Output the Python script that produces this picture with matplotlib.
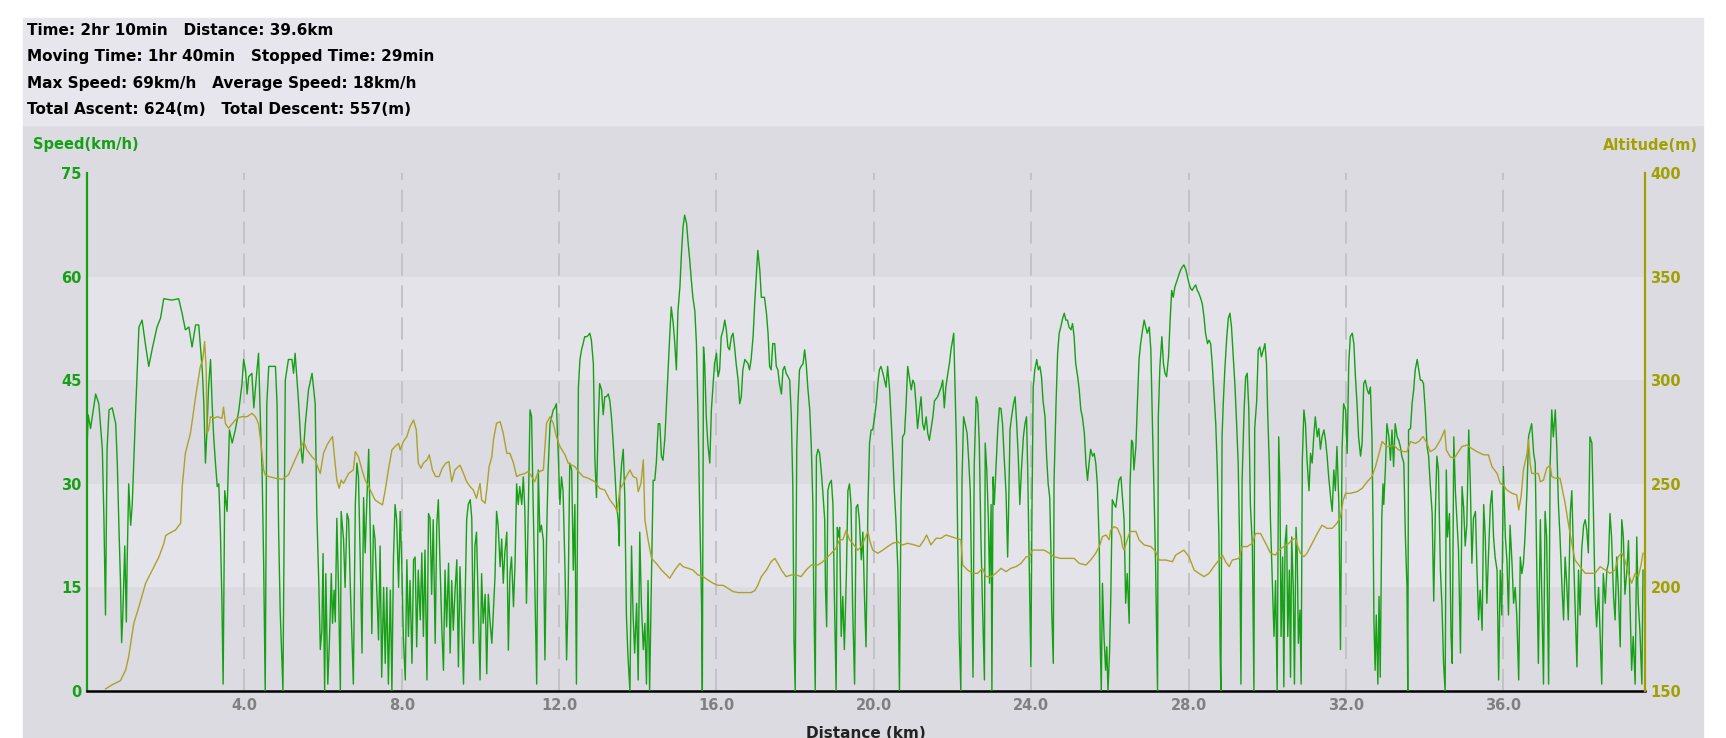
import matplotlib
matplotlib.use("Agg")
import matplotlib.pyplot as plt
from matplotlib.patches import Rectangle

plt.rcParams['font.family'] = ['DejaVu Sans']
plt.rcParams['lines.scale_dashes'] = False

# summary lines shown above the chart
summary = [
    "Time: 2hr 10min   Distance: 39.6km",
    "Moving Time: 1hr 40min   Stopped Time: 29min",
    "Max Speed: 69km/h   Average Speed: 18km/h",
    "Total Ascent: 624(m)   Total Descent: 557(m)",
]

speed_ticks = [0, 15, 30, 45, 60, 75]
alt_ticks = [150, 200, 250, 300, 350, 400]
dist_ticks = [4, 8, 12, 16, 20, 24, 28, 32, 36]

# (distance km, speed km/h)
speed_pts = [
    (0.00, 35), (0.03, 40), (0.09, 38), (0.22, 43), (0.30, 41.6), (0.39, 35), (0.43, 25), (0.47, 11),
    (0.51, 35), (0.56, 40.7), (0.64, 41), (0.73, 38.7), (0.77, 33), (0.81, 24), (0.85, 16), (0.88, 7),
    (0.91, 11), (0.96, 21), (1.00, 10), (1.02, 18.5), (1.06, 30), (1.11, 24), (1.15, 27), (1.23, 39.7),
    (1.32, 52.7), (1.40, 53.7), (1.49, 50), (1.57, 47), (1.66, 49.6), (1.78, 52.7), (1.87, 54), (1.95, 56.8),
    (2.16, 56.6), (2.33, 56.8), (2.42, 54.6), (2.50, 52.3), (2.59, 52.7), (2.67, 49.8), (2.76, 53), (2.84, 53),
    (2.93, 46.5), (2.97, 41.6), (3.01, 33), (3.05, 37.8), (3.09, 44), (3.14, 48), (3.18, 41.6), (3.22, 36.8),
    (3.26, 33.4), (3.31, 29.6), (3.35, 30), (3.39, 23.3), (3.43, 12.7), (3.46, 1), (3.50, 29), (3.56, 26),
    (3.62, 37.8), (3.69, 35.9), (3.77, 37.8), (3.86, 40.7), (3.94, 44.5), (3.98, 48), (4.03, 46.5), (4.07, 43),
    (4.11, 45.5), (4.19, 46), (4.24, 41), (4.32, 46.5), (4.36, 48.9), (4.41, 38.7), (4.45, 32), (4.49, 18.5),
    (4.53, 0), (4.57, 41.6), (4.62, 47), (4.79, 47), (4.83, 41.6), (4.87, 23.3), (4.91, 11.7), (4.98, 0),
    (5.04, 45), (5.12, 48), (5.21, 48), (5.25, 46), (5.29, 48.9), (5.38, 41.6), (5.45, 34.4), (5.48, 33),
    (5.55, 38.7), (5.63, 43.6), (5.72, 46), (5.80, 41.6), (5.84, 26), (5.89, 16), (5.93, 6), (5.97, 8.8),
    (6.00, 19.9), (6.04, 0), (6.07, 17), (6.12, 1), (6.16, 6.9), (6.21, 17), (6.24, 9.8), (6.28, 14.6),
    (6.31, 10), (6.35, 25), (6.39, 15.6), (6.44, 0), (6.46, 26), (6.52, 22),
    (6.56, 15), (6.61, 25.7), (6.65, 24.8), (6.69, 15.6), (6.73, 8.3), (6.77, 1), (6.82, 27), (6.86, 33),
    (6.90, 31), (6.94, 20.4), (6.99, 5.5), (7.03, 28), (7.07, 20), (7.11, 27), (7.16, 35), (7.20, 23),
    (7.24, 8.3), (7.28, 24), (7.32, 22), (7.37, 13.7), (7.41, 7.4), (7.45, 21), (7.49, 2), (7.54, 15),
    (7.58, 4), (7.62, 15), (7.66, 1), (7.71, 14.6), (7.75, 0), (7.79, 19.4), (7.83, 27), (7.87, 24.8),
    (7.92, 15), (7.96, 26), (8.00, 18.5), (8.04, 7.9), (8.09, 1.6), (8.13, 19), (8.17, 7.9), (8.21, 16),
    (8.26, 4), (8.30, 19), (8.34, 19.4), (8.38, 6.4), (8.42, 17.5), (8.47, 10.3), (8.51, 20), (8.55, 7.9),
    (8.59, 20.4), (8.64, 1.6), (8.68, 25.7), (8.72, 25), (8.76, 14), (8.80, 24.8), (8.85, 6.9), (8.89, 24),
    (8.93, 27.7), (8.97, 19), (9.02, 8.8), (9.06, 3), (9.10, 17.5), (9.14, 9.3), (9.19, 18.5), (9.23, 5.5),
    (9.27, 16), (9.31, 8.8), (9.35, 14), (9.40, 19), (9.44, 3.5), (9.48, 18), (9.52, 10.3), (9.57, 1),
    (9.61, 13), (9.65, 24.8), (9.69, 27), (9.74, 27.7), (9.78, 25), (9.82, 6.9), (9.86, 21), (9.90, 23),
    (9.95, 11), (9.99, 1.6), (10.03, 17), (10.07, 9.8), (10.12, 14), (10.16, 2.5), (10.20, 14), (10.24, 10.3),
    (10.29, 6.9), (10.33, 11.7), (10.37, 16.5), (10.41, 26), (10.45, 24), (10.50, 18), (10.54, 22), (10.58, 15.6),
    (10.62, 20), (10.67, 23), (10.71, 5.9), (10.75, 17), (10.79, 19.4), (10.84, 12.2), (10.88, 18.5), (10.92, 30),
    (10.96, 27), (11.00, 29.6), (11.05, 27), (11.09, 31), (11.13, 26), (11.17, 12.7), (11.22, 27), (11.26, 40.7),
    (11.30, 39.7), (11.34, 27), (11.38, 16), (11.43, 1), (11.47, 32), (11.51, 23), (11.55, 24), (11.60, 21.8),
    (11.64, 4.5), (11.68, 21.8), (11.72, 32), (11.77, 38.7), (11.81, 39.7), (11.85, 40.7), (11.89, 41), (11.93, 41.6),
    (11.98, 34), (12.02, 27), (12.06, 31), (12.10, 29), (12.15, 17.5), (12.19, 4.5), (12.23, 14), (12.27, 33),
    (12.32, 32), (12.36, 17.5), (12.40, 27), (12.44, 1), (12.49, 44), (12.53, 48), (12.57, 49.4), (12.61, 50.3),
    (12.65, 51.3), (12.70, 51.3), (12.74, 51.5), (12.78, 51.8), (12.82, 50.8), (12.87, 47.4), (12.91, 33.4), (12.95, 28),
    (12.99, 38), (13.03, 44.5), (13.08, 43.6), (13.12, 40), (13.16, 42.6),
    (13.20, 42.6), (13.25, 43), (13.29, 42), (13.33, 39.7), (13.37, 36.3), (13.42, 31.5), (13.46, 27), (13.50, 24.8),
    (13.53, 21), (13.54, 28.6), (13.59, 33), (13.63, 35), (13.67, 28), (13.71, 11), (13.75, 5), (13.80, 0),
    (13.84, 21), (13.88, 11), (13.92, 5.5), (13.97, 12.7), (14.01, 1.6), (14.05, 23), (14.09, 12.7), (14.14, 6),
    (14.18, 9.8), (14.22, 1), (14.26, 16), (14.30, 0), (14.35, 17.5), (14.39, 30.5), (14.43, 30.5), (14.47, 33),
    (14.52, 38.7), (14.56, 38.7), (14.60, 34), (14.64, 33.4), (14.69, 36.8), (14.73, 41.6), (14.77, 46.5), (14.81, 51.3),
    (14.85, 55.6), (14.90, 53.2), (14.94, 50.3), (14.98, 46.5), (15.02, 55), (15.07, 58.5), (15.11, 63.4), (15.15, 67.2),
    (15.19, 68.9), (15.24, 67.7), (15.28, 64.8), (15.32, 62.4), (15.36, 59.5), (15.40, 57), (15.45, 55), (15.49, 50.3),
    (15.53, 40.2), (15.57, 27), (15.62, 12.7), (15.64, 0), (15.67, 49.8), (15.70, 47.4), (15.74, 39.7), (15.78, 35.8),
    (15.83, 33), (15.87, 40.7), (15.91, 44), (15.95, 47.4), (16.00, 48.9), (16.04, 45.5), (16.08, 46.5), (16.12, 51.3),
    (16.17, 52.3), (16.21, 53.7), (16.25, 52.3), (16.29, 49.8), (16.33, 49.4), (16.38, 51.3), (16.42, 51.8), (16.46, 49.8),
    (16.50, 47.4), (16.55, 45), (16.59, 41.6), (16.63, 42.6), (16.67, 46.5), (16.72, 48), (16.80, 47.4), (16.84, 46.5),
    (16.88, 48), (16.93, 51.3), (16.97, 56), (17.01, 60), (17.05, 63.8), (17.10, 61), (17.14, 57), (17.22, 57),
    (17.27, 54.7), (17.31, 51.8), (17.35, 47), (17.39, 46.5), (17.43, 50.3), (17.48, 50.3), (17.52, 47), (17.56, 46.5),
    (17.60, 44.5), (17.65, 43), (17.69, 46.5), (17.73, 47), (17.77, 46), (17.82, 45.5), (17.86, 45), (17.90, 40.2),
    (17.94, 29.6), (17.97, 7.4), (18.00, 0), (18.04, 35), (18.07, 41.6), (18.11, 46.5), (18.15, 47), (18.20, 47.4),
    (18.24, 49.4), (18.28, 47.4), (18.32, 44), (18.37, 40.7), (18.41, 35.4), (18.45, 27), (18.47, 14.6), (18.51, 0),
    (18.54, 34), (18.58, 35), (18.62, 34.4), (18.66, 32), (18.70, 29), (18.75, 24.8), (18.77, 15), (18.80, 9.3),
    (18.83, 29), (18.87, 30), (18.92, 30.5), (18.96, 27), (19.00, 12.7), (19.04, 0), (19.07, 23.7), (19.10, 22.3),
    (19.13, 23.7), (19.17, 7.9), (19.21, 13.7), (19.25, 6), (19.30, 16.5), (19.34, 29), (19.38, 30), (19.42, 27),
    (19.46, 12.2), (19.51, 1), (19.55, 26.6), (19.59, 27), (19.63, 24.8), (19.68, 19), (19.72, 23),
    (19.76, 14), (19.80, 6.4), (19.85, 27), (19.89, 35.9), (19.93, 37.8), (19.97, 37.8), (20.02, 39.7), (20.06, 41.6),
    (20.10, 44.5), (20.14, 46.5), (20.18, 47), (20.23, 46), (20.27, 45), (20.31, 44), (20.35, 47), (20.40, 43.6),
    (20.44, 39.2), (20.48, 34.4), (20.52, 29), (20.56, 24.8), (20.61, 17.5), (20.65, 0), (20.69, 27), (20.73, 36.8),
    (20.78, 37.3), (20.82, 41.6), (20.86, 47), (20.90, 45.5), (20.95, 43.6), (20.99, 45), (21.03, 44.5), (21.07, 41.6),
    (21.11, 38), (21.16, 40.7), (21.20, 42.6), (21.24, 38.7), (21.28, 37.8), (21.33, 39.7), (21.37, 37.3), (21.41, 36.3),
    (21.45, 37.8), (21.50, 39.7), (21.54, 42), (21.62, 42.6), (21.71, 44), (21.75, 45), (21.79, 41), (21.83, 44),
    (21.88, 46), (21.92, 47.4), (21.96, 49.4), (22.00, 50.8), (22.03, 51.8), (22.06, 44.5), (22.10, 35.4), (22.13, 22.3),
    (22.17, 7.9), (22.21, 0), (22.24, 30.5), (22.28, 39.7), (22.32, 38.7), (22.37, 37.3), (22.41, 33.4), (22.45, 29),
    (22.49, 13.7), (22.52, 2), (22.55, 32.5), (22.60, 42.6), (22.64, 41.6), (22.68, 35.9), (22.72, 22.3), (22.76, 12.7),
    (22.81, 1.6), (22.83, 35.9), (22.87, 32), (22.91, 24.8), (22.94, 15.6), (22.98, 27), (23.00, 0), (23.03, 31),
    (23.06, 27), (23.10, 32), (23.15, 38), (23.19, 41), (23.23, 40.9), (23.27, 38.7), (23.31, 34), (23.36, 28.6),
    (23.40, 19.4), (23.42, 24.8), (23.46, 37.8), (23.50, 39.7), (23.55, 41.6), (23.59, 42.6), (23.63, 38.7), (23.67, 34),
    (23.71, 27), (23.75, 32), (23.80, 36.8), (23.84, 38.7), (23.88, 39.7), (23.91, 32), (23.95, 17.5), (23.99, 3.5),
    (24.02, 27), (24.05, 44), (24.09, 46.5), (24.14, 48), (24.18, 46.5), (24.22, 47), (24.26, 45.5), (24.30, 42),
    (24.35, 39.7), (24.39, 34), (24.43, 30), (24.47, 28), (24.50, 20.4), (24.52, 11.7), (24.56, 4), (24.58, 30.5),
    (24.63, 41.6), (24.67, 48.9), (24.71, 51.8), (24.75, 52.7), (24.80, 54), (24.84, 54.7), (24.88, 53.7), (24.92, 53.7),
    (24.96, 52.7), (25.01, 52.3), (25.05, 53.2), (25.09, 51.3), (25.13, 47.4), (25.18, 45.5), (25.22, 43.6), (25.26, 40.7),
    (25.30, 39.7), (25.35, 37.3), (25.39, 33), (25.43, 30.5), (25.47, 33), (25.51, 35), (25.56, 34), (25.60, 34.4),
    (25.64, 33), (25.68, 30), (25.73, 21), (25.75, 7.9), (25.78, 0), (25.81, 15.6), (25.85, 7.9), (25.89, 3),
    (25.92, 6.4), (25.95, 0), (25.99, 5.5), (26.02, 13), (26.06, 27.7), (26.11, 27), (26.15, 26.6), (26.19, 28.6),
    (26.23, 30.5), (26.28, 31), (26.32, 28),
    (26.36, 24.8), (26.40, 12.7), (26.44, 17), (26.49, 9.8), (26.51, 29.6), (26.55, 36.3), (26.58, 35.9), (26.61, 32),
    (26.66, 35.4), (26.70, 42), (26.74, 48), (26.78, 50.3), (26.83, 52.3), (26.87, 53.7), (26.91, 52.7), (26.95, 51.8),
    (27.00, 52.7), (27.04, 49.4), (27.08, 38.7), (27.12, 29), (27.16, 18.5), (27.21, 0), (27.23, 39.7), (27.27, 47),
    (27.32, 51.3), (27.36, 47.4), (27.40, 46), (27.44, 45.5), (27.49, 48.4), (27.53, 53.7), (27.57, 58), (27.61, 57),
    (27.65, 58.5), (27.71, 59.5), (27.76, 60.4), (27.80, 61), (27.84, 61.4), (27.88, 61.7), (27.93, 61), (27.97, 60),
    (28.01, 59), (28.05, 58.3), (28.09, 58), (28.14, 58.5), (28.18, 58.8), (28.22, 58), (28.26, 57.6), (28.31, 56.8),
    (28.35, 56), (28.39, 54.2), (28.43, 51.8), (28.48, 50.3), (28.52, 50.8), (28.56, 50.3), (28.60, 47.4), (28.64, 43.6),
    (28.69, 38.7), (28.73, 32), (28.77, 22.3), (28.80, 6), (28.82, 0), (28.85, 36.8), (28.88, 41.6), (28.92, 46.5),
    (28.97, 51.3), (29.01, 54), (29.05, 54.7), (29.09, 52.7), (29.13, 48.9), (29.18, 44), (29.22, 38.7), (29.26, 33),
    (29.30, 20.4), (29.33, 1), (29.36, 30.5), (29.41, 40.7), (29.45, 45.5), (29.49, 46), (29.53, 40.7), (29.57, 27),
    (29.62, 21), (29.66, 0), (29.68, 38), (29.73, 42), (29.77, 49.4), (29.81, 49.8), (29.85, 48.4), (29.90, 49.4),
    (29.94, 50.3), (29.98, 47.4), (30.01, 40.2), (30.05, 33), (30.08, 24.8), (30.12, 17.5), (30.17, 7.9), (30.21, 16),
    (30.25, 0), (30.29, 36.8), (30.32, 30), (30.35, 7.9), (30.39, 19.4), (30.42, 0.6), (30.45, 21.3), (30.49, 24),
    (30.52, 7.9), (30.56, 17.5), (30.59, 2), (30.62, 22.3), (30.66, 15), (30.69, 1), (30.73, 23.7), (30.76, 20),
    (30.79, 6.9), (30.83, 11.7), (30.86, 1), (30.89, 33.4), (30.93, 40.7), (30.97, 38.7), (31.01, 33.4), (31.06, 29),
    (31.10, 34.4), (31.14, 33), (31.18, 36.8), (31.22, 39.7), (31.27, 36.8), (31.31, 38), (31.35, 35), (31.39, 36.8),
    (31.44, 37.8), (31.48, 36.3), (31.52, 34), (31.56, 31), (31.61, 28), (31.65, 26), (31.69, 32), (31.73, 29),
    (31.77, 35.4), (31.82, 27), (31.86, 6), (31.90, 35), (31.94, 41.6), (31.99, 40.7), (32.03, 34.4), (32.07, 47.4),
    (32.11, 51.3), (32.16, 51.8), (32.20, 50.3), (32.24, 45.5), (32.28, 41.6), (32.32, 36.8), (32.37, 34), (32.41, 35.9),
    (32.45, 44.5), (32.49, 45), (32.54, 43.6), (32.58, 43), (32.62, 44), (32.66, 36.8), (32.69, 23.3), (32.71, 10.3),
    (32.74, 3), (32.77, 11), (32.81, 1), (32.84, 13.7), (32.87, 2), (32.91, 25), (32.94, 30),
    (32.96, 27), (33.00, 32), (33.04, 38.7), (33.09, 36.8), (33.13, 33.4), (33.17, 37.8), (33.21, 32.5), (33.25, 38.7),
    (33.30, 36.8), (33.34, 36.3), (33.38, 35.4), (33.42, 34), (33.47, 33), (33.51, 22.3), (33.55, 15), (33.57, 0),
    (33.59, 37.8), (33.64, 38), (33.68, 41.6), (33.72, 43.6), (33.76, 46.5), (33.81, 48), (33.85, 46.5), (33.89, 45),
    (33.93, 45), (33.97, 44.5), (34.02, 40.2), (34.06, 35.4), (34.10, 34), (34.14, 30), (34.19, 25.7), (34.23, 13),
    (34.27, 25.7), (34.31, 34), (34.35, 32), (34.40, 17.5), (34.44, 12.2), (34.48, 4), (34.52, 0), (34.55, 32),
    (34.58, 22.3), (34.63, 25.7), (34.67, 7.9), (34.70, 4), (34.74, 36.8), (34.78, 29), (34.82, 24.8), (34.86, 20.4),
    (34.91, 5.5), (34.95, 29.6), (34.99, 26.6), (35.03, 21), (35.07, 24), (35.12, 37.8), (35.16, 30), (35.20, 18.5),
    (35.24, 25), (35.29, 26), (35.33, 17.5), (35.37, 10.3), (35.41, 14.6), (35.46, 8.8), (35.50, 27), (35.54, 22.3),
    (35.58, 12.7), (35.62, 19.4), (35.67, 27), (35.71, 29), (35.75, 22.3), (35.79, 19.4), (35.84, 17.5), (35.88, 1.6),
    (35.92, 17.5), (35.96, 11), (36.00, 32.5), (36.05, 22.3), (36.09, 19), (36.13, 11), (36.17, 24), (36.22, 18.5),
    (36.26, 12.7), (36.30, 15), (36.34, 11), (36.39, 1.6), (36.43, 19.4), (36.47, 17), (36.51, 18.5), (36.55, 22.3),
    (36.60, 29), (36.64, 36.8), (36.68, 37.8), (36.72, 38.7), (36.77, 34.4), (36.81, 33), (36.85, 17.5), (36.89, 4),
    (36.94, 24.8), (36.98, 12.7), (37.02, 1), (37.06, 26), (37.10, 22.3), (37.15, 1), (37.19, 33), (37.23, 40.7),
    (37.27, 36.8), (37.32, 40.7), (37.36, 35), (37.40, 27), (37.44, 22.3), (37.49, 15), (37.53, 10.3), (37.57, 19.4),
    (37.61, 15.6), (37.65, 10.3), (37.70, 25.7), (37.74, 29), (37.78, 20.4), (37.82, 12.7), (37.87, 3.5), (37.91, 17.5),
    (37.95, 11), (37.99, 20.4), (38.04, 24), (38.08, 24.8), (38.12, 23.3), (38.16, 20), (38.20, 36.8), (38.25, 35.9),
    (38.29, 25.7), (38.33, 14), (38.37, 9.3), (38.42, 15), (38.46, 7.9), (38.50, 1), (38.54, 17), (38.59, 12.7),
    (38.63, 17.5), (38.67, 18.5), (38.71, 25.7), (38.75, 22.3), (38.80, 13.7), (38.84, 10.3), (38.88, 19.4), (38.92, 15),
    (38.97, 6.4), (39.01, 24.8), (39.05, 22.3), (39.09, 14), (39.14, 17.5), (39.18, 21.8), (39.22, 12.2), (39.26, 3),
    (39.30, 7.9), (39.35, 1), (39.39, 22.3), (39.43, 12.7), (39.47, 8.8), (39.52, 1), (39.55, 17.5),
]

# (distance km, altitude m)
alt_pts = [
    (0.47, 151), (0.64, 153), (0.85, 155), (0.98, 160), (1.06, 166.6), (1.19, 182.7), (1.32, 190.7), (1.49, 202),
    (1.66, 208.4), (1.83, 214.8), (1.95, 221), (2.00, 225), (2.08, 226), (2.25, 227.7), (2.38, 231), (2.42, 248.6),
    (2.50, 264.7), (2.63, 274.4), (2.76, 292), (2.88, 306.6), (2.94, 309.8), (2.99, 318.6), (3.03, 305), (3.05, 274.4),
    (3.09, 276), (3.14, 282.4), (3.22, 281.6), (3.31, 282.4), (3.43, 281.6), (3.47, 287), (3.52, 279), (3.60, 276.8),
    (3.69, 279), (3.81, 281.6), (3.94, 282.4), (4.07, 282.4), (4.19, 284), (4.28, 282.4), (4.36, 279), (4.43, 268),
    (4.49, 256.7), (4.53, 254.3), (4.62, 253.5), (4.79, 252.7), (4.96, 252.2), (5.12, 254.3), (5.25, 260), (5.38, 265.5),
    (5.51, 270.4), (5.59, 266.3), (5.72, 263), (5.80, 261.5), (5.89, 256.7), (5.93, 255), (6.01, 264.7), (6.10, 268.7),
    (6.18, 271.2), (6.24, 272.8), (6.29, 263), (6.35, 251.8), (6.41, 247.8), (6.46, 251.8), (6.52, 250.2),
    (6.65, 255), (6.77, 256.7), (6.82, 265.5), (6.90, 263), (6.99, 256.7), (7.07, 251.8), (7.20, 247), (7.32, 242.2),
    (7.45, 240.6), (7.51, 239.8), (7.58, 247), (7.66, 256.7), (7.75, 266.3), (7.83, 268), (7.92, 269.5), (7.96, 266.3),
    (8.04, 270.4), (8.13, 272.8), (8.21, 277.6), (8.30, 280.8), (8.37, 276), (8.42, 260), (8.49, 257.5), (8.55, 260),
    (8.64, 261.5), (8.70, 264), (8.78, 256.7), (8.86, 253.5), (8.95, 253.5), (9.03, 257.5), (9.12, 260), (9.20, 260.7),
    (9.27, 251), (9.35, 256.7), (9.48, 259), (9.57, 255), (9.65, 251), (9.74, 248.6), (9.82, 247), (9.90, 243),
    (9.95, 247), (9.99, 250.2), (10.03, 242.2), (10.12, 240.6), (10.16, 247), (10.22, 258.3), (10.29, 263), (10.33, 271.2),
    (10.41, 279.2), (10.50, 280), (10.58, 274.4), (10.67, 264.7), (10.75, 264.7), (10.84, 260), (10.92, 253.5), (11.00, 254.3),
    (11.13, 255), (11.22, 256), (11.30, 253.5), (11.38, 251), (11.45, 255), (11.51, 256), (11.60, 256.7), (11.68, 279.2),
    (11.77, 282.4), (11.85, 279.2), (11.93, 272.8), (12.02, 268), (12.15, 264), (12.23, 260), (12.32, 259), (12.40, 258.3),
    (12.49, 256), (12.61, 253.5), (12.74, 252.7), (12.91, 251), (13.03, 247.8),
    (13.16, 247), (13.29, 242.2), (13.42, 239), (13.48, 236.6), (13.54, 247), (13.63, 250.2), (13.71, 253.5), (13.80, 256.7),
    (13.88, 253.5), (13.97, 252.7), (14.01, 246.2), (14.08, 250.2), (14.14, 261.5), (14.18, 232.5), (14.26, 223), (14.35, 214),
    (14.47, 211.6), (14.60, 208.4), (14.73, 206), (14.81, 204.4), (14.94, 208.4), (15.07, 211.6), (15.15, 210), (15.28, 209.2),
    (15.40, 208.4), (15.53, 206), (15.66, 205.2), (15.78, 203.6), (15.91, 202), (16.04, 201), (16.17, 201), (16.29, 199.6),
    (16.42, 198), (16.55, 197.5), (16.72, 197.5), (16.88, 197.5), (16.97, 198.4), (17.05, 201), (17.14, 205.2), (17.27, 208.4),
    (17.39, 212.4), (17.48, 214), (17.56, 211.6), (17.65, 208.4), (17.77, 205.2), (17.90, 206), (18.03, 206), (18.15, 205.2),
    (18.28, 208.4), (18.41, 210.8), (18.58, 210.8), (18.70, 212.4), (18.79, 214), (18.92, 216.5), (19.04, 219), (19.13, 223),
    (19.21, 223), (19.30, 227.7), (19.38, 223), (19.46, 221.3), (19.59, 218), (19.68, 219.7),
    (19.76, 223), (19.85, 227), (19.89, 223), (19.97, 218), (20.10, 216.5), (20.23, 218), (20.35, 219.7), (20.48, 221.3),
    (20.61, 222), (20.73, 220.5), (20.86, 221.3), (21.03, 220.5), (21.16, 219.7), (21.28, 223), (21.34, 225.3), (21.45, 220.5),
    (21.58, 223.7), (21.71, 223.7), (21.83, 225.3), (21.96, 224.5), (22.09, 223.7), (22.21, 223), (22.26, 210.8), (22.38, 208.4),
    (22.51, 206.8), (22.64, 206.8), (22.76, 209.2), (22.85, 205.2), (22.98, 205.2), (23.10, 206.8), (23.23, 209.2), (23.36, 207.6),
    (23.48, 209.2), (23.61, 210), (23.74, 211.6), (23.87, 214.8), (23.95, 214.8), (24.03, 218), (24.16, 218), (24.33, 218),
    (24.46, 216.5), (24.58, 214.8), (24.75, 214), (24.92, 214), (25.09, 214), (25.22, 211.6), (25.39, 210.8), (25.51, 213.2),
    (25.64, 216.5), (25.73, 219.7), (25.81, 224.5), (25.90, 225.3), (25.98, 223), (26.02, 227.7), (26.11, 229.3), (26.19, 228.5),
    (26.28, 224.5), (26.32, 219.7),
    (26.36, 218), (26.44, 223), (26.51, 227), (26.66, 227), (26.74, 223), (26.87, 220.5), (27.04, 219.7), (27.16, 217.3),
    (27.25, 213.2), (27.42, 213.2), (27.59, 212.4), (27.67, 215.6), (27.88, 218), (28.01, 214.8), (28.14, 208.4), (28.26, 206.8),
    (28.39, 205.2), (28.52, 206.8), (28.64, 210), (28.77, 213.2), (28.86, 215.6), (28.94, 212.4), (29.03, 210), (29.11, 213.2),
    (29.28, 214), (29.36, 219.7), (29.49, 219.7), (29.62, 221.3), (29.70, 226), (29.83, 226), (29.91, 223), (30.00, 219.7),
    (30.08, 216.5), (30.21, 215.6), (30.29, 218), (30.42, 219.7), (30.55, 221.3), (30.63, 223), (30.72, 223.7), (30.76, 220.5),
    (30.84, 216.5), (30.93, 214.8), (31.01, 216.5), (31.14, 221.3), (31.27, 226), (31.39, 230), (31.52, 228.5), (31.65, 228.5),
    (31.77, 231), (31.86, 234), (31.93, 242.2), (31.99, 245.4), (32.11, 245.4), (32.28, 246.2), (32.41, 247.8), (32.54, 251),
    (32.66, 253.5), (32.75, 258.3), (32.83, 264), (32.92, 270.4),
    (33.04, 268), (33.13, 268), (33.21, 268.7), (33.34, 266.3), (33.47, 265.5), (33.55, 265.5), (33.64, 270.4), (33.76, 269.5),
    (33.85, 270.4), (33.96, 272.8), (34.06, 269.5), (34.14, 265.5), (34.27, 267), (34.40, 271.2), (34.51, 276), (34.55, 266.3),
    (34.65, 263), (34.75, 262.3), (34.86, 265.5), (34.95, 268), (35.07, 268.7), (35.20, 267), (35.33, 265.5), (35.50, 264),
    (35.62, 264), (35.71, 258.3), (35.84, 255), (35.92, 250.2), (36.00, 249.4), (36.09, 247), (36.22, 245.4), (36.34, 244.6),
    (36.39, 237.4), (36.45, 243.8), (36.51, 256.7), (36.60, 264.7), (36.64, 271.2), (36.68, 260), (36.72, 255), (36.81, 255),
    (36.89, 255), (36.94, 251), (37.02, 251.8), (37.10, 257.5), (37.19, 259), (37.23, 253.5), (37.32, 252.7), (37.44, 252.7),
    (37.57, 240.6), (37.65, 231), (37.74, 221.3), (37.82, 213.2), (37.95, 210), (38.08, 206.8), (38.20, 206.8), (38.33, 206.8),
    (38.46, 210), (38.59, 208.4), (38.71, 206.8), (38.84, 208.4), (38.92, 214.8), (39.01, 216.5), (39.09, 213.2), (39.18, 206.8),
    (39.26, 202), (39.35, 206.8), (39.43, 205.2), (39.49, 210), (39.55, 216.5),
]

spd_x = [p[0] for p in speed_pts]
spd_y = [p[1] for p in speed_pts]
alt_x = [p[0] for p in alt_pts]
alt_y = [p[1] for p in alt_pts]

W, H = 1726, 738
green = '#15a015'
olive = '#a0a000'
panel = '#dcdbe2'
light = '#e4e3e9'

fig = plt.figure(figsize=(W / 100, H / 100), dpi=100)
fig.patch.set_facecolor('white')
# grey panel behind everything, lighter strip for the summary text
fig.add_artist(Rectangle((23 / W, 0), 1680 / W, 1 - 125 / H, transform=fig.transFigure,
                         color=panel, zorder=-10))
fig.add_artist(Rectangle((23 / W, 1 - 125 / H), 1680 / W, 107 / H, transform=fig.transFigure,
                         color='#e6e6ec', zorder=-10))

ax = fig.add_axes([87 / W, 47 / H, 1558 / W, 518 / H])
ax.set_facecolor(panel)
ax.axhspan(45, 60, color=light, lw=0, zorder=0)
ax.axhspan(15, 30, color=light, lw=0, zorder=0)
for d in dist_ticks:
    ax.axvline(d, color='#c3c3c6', lw=1.4, dashes=(16, 7), zorder=1)

ax.plot(spd_x, spd_y, color=green, lw=1.0, zorder=3)
ax.set_xlim(0, 39.6)
ax.set_ylim(0, 75)
ax.set_yticks(speed_ticks)
ax.set_yticklabels([str(v) for v in speed_ticks], color=green, fontsize=10.5, fontweight='bold')
ax.set_xticks(dist_ticks)
ax.set_xticklabels([f'{d:.1f}' for d in dist_ticks], color='#808080', fontsize=10.5, fontweight='bold')
ax.tick_params(axis='y', length=0, pad=4)
ax.tick_params(axis='x', length=0, pad=5)
for s in ['top', 'right']:
    ax.spines[s].set_visible(False)
ax.spines['left'].set_color(green)
ax.spines['left'].set_linewidth(1.6)
ax.spines['bottom'].set_color('black')
ax.spines['bottom'].set_linewidth(1.8)

ax2 = ax.twinx()
ax2.plot(alt_x, alt_y, color='#aaa22a', lw=1.0)
ax2.set_ylim(150, 400)
ax2.set_yticks(alt_ticks)
ax2.set_yticklabels([str(v) for v in alt_ticks], color=olive, fontsize=10.5, fontweight='bold')
ax2.tick_params(axis='y', length=0, pad=4)
for s in ['top', 'left', 'bottom']:
    ax2.spines[s].set_visible(False)
ax2.spines['right'].set_color(olive)
ax2.spines['right'].set_linewidth(1.6)

for i, line in enumerate(summary):
    fig.text(27 / W, 1 - (30.5 + 26.5 * i) / H, line, fontsize=11, fontweight='bold',
             va='center', ha='left', color='black')

fig.text(33 / W, 1 - 144 / H, 'Speed(km/h)', color=green, fontsize=10.5, fontweight='bold',
         va='center', ha='left')
fig.text(1698 / W, 1 - 145 / H, 'Altitude(m)', color=olive, fontsize=10.5, fontweight='bold',
         va='center', ha='right')
fig.text(866 / W, 1 - 733 / H, 'Distance (km)', color='#222222', fontsize=11, fontweight='bold',
         va='center', ha='center')

fig.savefig('out.png', dpi=100)
